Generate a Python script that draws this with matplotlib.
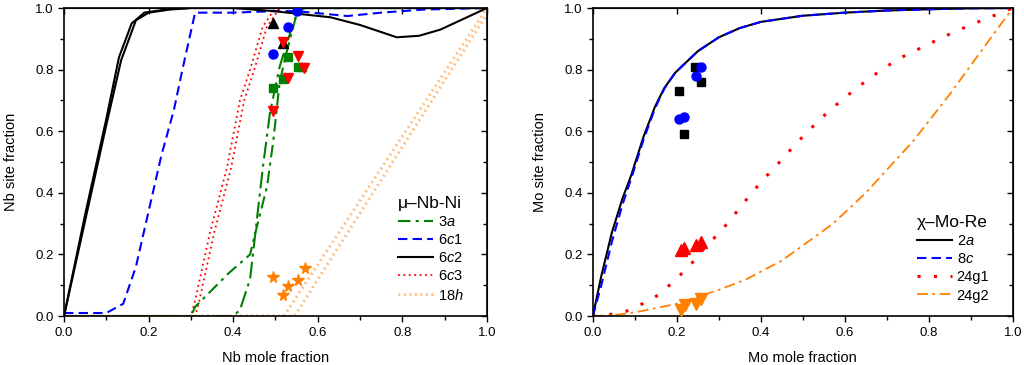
import numpy as np
import matplotlib
matplotlib.use('Agg')
import matplotlib.pyplot as plt

plt.rcParams['font.family'] = ['Liberation Sans', 'DejaVu Sans']
plt.rcParams['mathtext.fontset'] = 'custom'
plt.rcParams['mathtext.rm'] = 'Liberation Sans'
plt.rcParams['mathtext.it'] = 'Liberation Sans:italic'

# ---------------- left panel: mu-Nb-Ni ----------------
nb_6c2_a_x = [0, 0.05, 0.10, 0.135, 0.17, 0.20, 0.25, 0.30, 0.40, 0.495, 0.63, 0.70, 0.787, 0.84, 0.89, 1.0]
nb_6c2_a_y = [0, 0.31, 0.62, 0.83, 0.96, 0.985, 0.995, 1.0, 1.0, 0.99, 0.97, 0.945, 0.905, 0.91, 0.93, 1.0]
nb_6c2_b_x = [0, 0.05, 0.10, 0.13, 0.16, 0.19, 0.25, 0.30, 0.40, 0.50, 1.0]
nb_6c2_b_y = [0, 0.33, 0.64, 0.84, 0.95, 0.985, 0.997, 1.0, 1.0, 1.0, 1.0]

nb_6c1_x = [0, 0.10, 0.14, 0.17, 0.20, 0.23, 0.26, 0.28, 0.31, 0.40, 0.50, 0.55, 0.67, 0.75, 0.85, 1.0]
nb_6c1_y = [0.01, 0.01, 0.04, 0.16, 0.34, 0.52, 0.67, 0.80, 0.985, 0.985, 0.99, 0.99, 0.974, 0.985, 0.995, 1.0]

nb_6c3_a_x = [0, 0.30, 0.31, 0.345, 0.385, 0.416, 0.44, 0.47, 0.50, 1.0]
nb_6c3_a_y = [0, 0, 0.05, 0.27, 0.48, 0.70, 0.80, 0.94, 1.0, 1.0]
nb_6c3_b_x = [0, 0.31, 0.32, 0.355, 0.395, 0.426, 0.45, 0.48, 0.51, 1.0]
nb_6c3_b_y = [0, 0, 0.05, 0.27, 0.48, 0.70, 0.80, 0.94, 1.0, 1.0]

nb_3a_a_x = [0, 0.30, 0.31, 0.39, 0.44, 0.456, 0.48, 0.495, 0.51, 0.527, 0.55, 0.56, 1.0]
nb_3a_a_y = [0, 0, 0.03, 0.14, 0.20, 0.29, 0.42, 0.57, 0.76, 0.86, 0.98, 1.0, 1.0]
nb_3a_b_x = [0, 0.40, 0.416, 0.44, 0.47, 0.487, 0.51, 0.535, 0.553, 0.57, 1.0]
nb_3a_b_y = [0, 0, 0.02, 0.12, 0.48, 0.66, 0.81, 0.92, 0.99, 1.0, 1.0]

nb_18h_a_x = [0, 0.52, 1.0]
nb_18h_a_y = [0, 0, 1.0]
nb_18h_b_x = [0, 0.545, 1.0]
nb_18h_b_y = [0, 0, 0.98]

# measured points
nb_tri_x = [0.494, 0.517]
nb_tri_y = [0.95, 0.885]
nb_circ_x = [0.53, 0.494, 0.55]
nb_circ_y = [0.94, 0.85, 0.99]
nb_sq_x = [0.53, 0.553, 0.563, 0.517, 0.494]
nb_sq_y = [0.84, 0.81, 0.81, 0.77, 0.74]
nb_dtri_x = [0.517, 0.553, 0.567, 0.53, 0.494]
nb_dtri_y = [0.89, 0.845, 0.805, 0.773, 0.665]
nb_star_x = [0.494, 0.517, 0.53, 0.553, 0.57]
nb_star_y = [0.127, 0.07, 0.097, 0.117, 0.157]

# ---------------- right panel: chi-Mo-Re ----------------
mo_2a_x = [0, 0.02, 0.045, 0.07, 0.092, 0.12, 0.148, 0.17, 0.196, 0.25, 0.30, 0.35, 0.40, 0.50, 0.60, 0.70, 0.80, 0.90, 1.0]
mo_2a_y = [0, 0.13, 0.27, 0.38, 0.46, 0.58, 0.68, 0.74, 0.79, 0.86, 0.905, 0.935, 0.955, 0.975, 0.985, 0.992, 0.996, 0.999, 1.0]
mo_8c_x = [0, 0.02, 0.045, 0.07, 0.092, 0.12, 0.148, 0.17, 0.196, 0.25, 0.30, 0.35, 0.40, 0.50, 0.60, 0.70, 0.80, 0.90, 1.0]
mo_8c_y = [0, 0.10, 0.24, 0.36, 0.45, 0.57, 0.675, 0.738, 0.79, 0.86, 0.905, 0.935, 0.955, 0.975, 0.985, 0.992, 0.996, 0.999, 1.0]
mo_24g1_x = [0, 0.043, 0.08, 0.118, 0.158, 0.196, 0.234, 0.267, 0.305, 0.338, 0.369, 0.402, 0.438, 0.474,
             0.51, 0.55, 0.59, 0.628, 0.667, 0.705, 0.745, 0.785, 0.825, 0.865, 0.905, 0.945, 1.0]
mo_24g1_y = [0, 0.006, 0.016, 0.04, 0.07, 0.117, 0.169, 0.223, 0.276, 0.331, 0.384, 0.438, 0.49, 0.545,
             0.597, 0.65, 0.698, 0.74, 0.78, 0.815, 0.847, 0.873, 0.90, 0.925, 0.948, 0.97, 1.0]
mo_24g2_x = [0, 0.05, 0.10, 0.20, 0.30, 0.366, 0.45, 0.572, 0.65, 0.764, 0.85, 0.93, 1.0]
mo_24g2_y = [0, 0.003, 0.012, 0.04, 0.085, 0.12, 0.18, 0.30, 0.40, 0.57, 0.72, 0.87, 1.0]

mo_sq_x = [0.243, 0.258, 0.206, 0.217]
mo_sq_y = [0.81, 0.76, 0.73, 0.59]
mo_circ_x = [0.258, 0.246, 0.206, 0.217]
mo_circ_y = [0.81, 0.78, 0.64, 0.647]
mo_tri_x = [0.21, 0.217, 0.246, 0.258]
mo_tri_y = [0.215, 0.222, 0.232, 0.24]
mo_dtri_x = [0.21, 0.22, 0.246, 0.258]
mo_dtri_y = [0.02, 0.035, 0.038, 0.055]

fig = plt.figure(figsize=(10.24, 3.65), dpi=100)
ax1 = fig.add_axes([0.0625, 0.134, 0.413, 0.844])
ax2 = fig.add_axes([0.579, 0.134, 0.410, 0.844])

green = '#008000'
lt_orange = '#FFBE80'
orange = '#FF8000'

# left curves
ax1.plot(nb_6c2_a_x, nb_6c2_a_y, color='k', lw=1.5, label='6$\\it{c}$2', zorder=3)
ax1.plot(nb_6c2_b_x, nb_6c2_b_y, color='k', lw=1.5, zorder=3)
ax1.plot(nb_6c1_x, nb_6c1_y, color='b', lw=1.5, dashes=(4.5, 2.5), label='6$\\it{c}$1')
ax1.plot(nb_6c3_a_x, nb_6c3_a_y, color='r', lw=1.3, dashes=(1, 2), label='6$\\it{c}$3')
ax1.plot(nb_6c3_b_x, nb_6c3_b_y, color='r', lw=1.3, dashes=(1, 2))
ax1.plot(nb_3a_a_x, nb_3a_a_y, color=green, lw=1.5, dashes=(6, 2.5, 1.5, 2.5), label='3$\\it{a}$')
ax1.plot(nb_3a_b_x, nb_3a_b_y, color=green, lw=1.5, dashes=(8, 2.5, 1.5, 2.5))
ax1.plot(nb_18h_a_x, nb_18h_a_y, color=lt_orange, lw=2.2, dashes=(0.6, 1.2), label='18$\\it{h}$')
ax1.plot(nb_18h_b_x, nb_18h_b_y, color=lt_orange, lw=2.2, dashes=(0.6, 1.2))

ax1.plot(nb_tri_x, nb_tri_y, '^', color='k', ms=6.5, ls='none', zorder=5)
ax1.plot(nb_circ_x, nb_circ_y, 'o', color='b', ms=6.5, ls='none', zorder=5)
ax1.plot(nb_sq_x, nb_sq_y, 's', color=green, ms=5.5, ls='none', zorder=5)
ax1.plot(nb_dtri_x, nb_dtri_y, 'v', color='r', ms=7, ls='none', zorder=6)
ax1.plot(nb_star_x, nb_star_y, '*', color=orange, ms=8.5, ls='none', zorder=5)

# right curves
ax2.plot(mo_2a_x, mo_2a_y, color='k', lw=1.5, label='2$\\it{a}$')
ax2.plot(mo_8c_x, mo_8c_y, color='b', lw=1.5, dashes=(4.5, 2.5), label='8$\\it{c}$')
ax2.plot(mo_24g1_x, mo_24g1_y, color='r', lw=2.2, dashes=(1, 4.4), label='24g1')
ax2.plot(mo_24g2_x, mo_24g2_y, color=orange, lw=1.3, dashes=(6, 2.5, 1.5, 2.5), label='24g2')

ax2.plot(mo_sq_x, mo_sq_y, 's', color='k', ms=5.5, ls='none', zorder=5)
ax2.plot(mo_circ_x, mo_circ_y, 'o', color='b', ms=6.5, ls='none', zorder=5)
ax2.plot(mo_tri_x, mo_tri_y, '^', color='r', ms=8, ls='none', zorder=5)
ax2.plot(mo_dtri_x, mo_dtri_y, 'v', color=orange, ms=8, ls='none', zorder=5)

for ax in [ax1, ax2]:
    ax.set_xlim(0, 1)
    ax.set_ylim(0, 1)
    ax.set_xticks(np.arange(0, 1.01, 0.2))
    ax.set_yticks(np.arange(0, 1.01, 0.2))
    ax.set_xticks(np.arange(0.1, 1.0, 0.2), minor=True)
    ax.set_yticks(np.arange(0.1, 1.0, 0.2), minor=True)
    ax.xaxis.set_major_formatter(matplotlib.ticker.FormatStrFormatter('%.1f'))
    ax.yaxis.set_major_formatter(matplotlib.ticker.FormatStrFormatter('%.1f'))
    ax.tick_params(which='major', direction='out', length=4, width=1, labelsize=9.5)
    ax.tick_params(which='minor', direction='out', length=3, width=1)
    for s in ax.spines.values():
        s.set_linewidth(1.2)
    # inward ticks on top and right
    top = ax.secondary_xaxis('top')
    top.set_xticks(np.arange(0, 1.01, 0.2))
    top.tick_params(direction='in', length=4, width=1, labeltop=False)
    right = ax.secondary_yaxis('right')
    right.set_yticks(np.arange(0, 1.01, 0.2))
    right.set_yticks(np.arange(0.1, 1.0, 0.2), minor=True)
    right.tick_params(which='major', direction='in', length=4, width=1, labelright=False)
    right.tick_params(which='minor', direction='in', length=3, width=1)

ax1.set_xlabel('Nb mole fraction', fontsize=10.5, labelpad=9)
ax1.set_ylabel('Nb site fraction', fontsize=10.5, labelpad=12)
ax2.set_xlabel('Mo mole fraction', fontsize=10.5, labelpad=9)
ax2.set_ylabel('Mo site fraction', fontsize=10.5, labelpad=12)

h, l = ax1.get_legend_handles_labels()
order = [l.index('3$\\it{a}$'), l.index('6$\\it{c}$1'), l.index('6$\\it{c}$2'),
         l.index('6$\\it{c}$3'), l.index('18$\\it{h}$')]
leg1 = ax1.legend([h[i] for i in order], [l[i] for i in order], title='μ–Nb-Ni',
                  loc='lower left', bbox_to_anchor=(0.775, 0.025), frameon=False, fontsize=10.5,
                  title_fontsize=12.5, handlelength=2.4, handletextpad=0.35, labelspacing=0.28,
                  borderaxespad=0)
leg1._legend_box.align = 'left'

leg2 = ax2.legend(title='χ–Mo-Re', loc='lower left', bbox_to_anchor=(0.757, 0.025), frameon=False,
                  fontsize=10.5, title_fontsize=12.5, handlelength=2.4, handletextpad=0.35,
                  labelspacing=0.28, borderaxespad=0)
leg2._legend_box.align = 'left'

fig.savefig('out.png', dpi=100)
